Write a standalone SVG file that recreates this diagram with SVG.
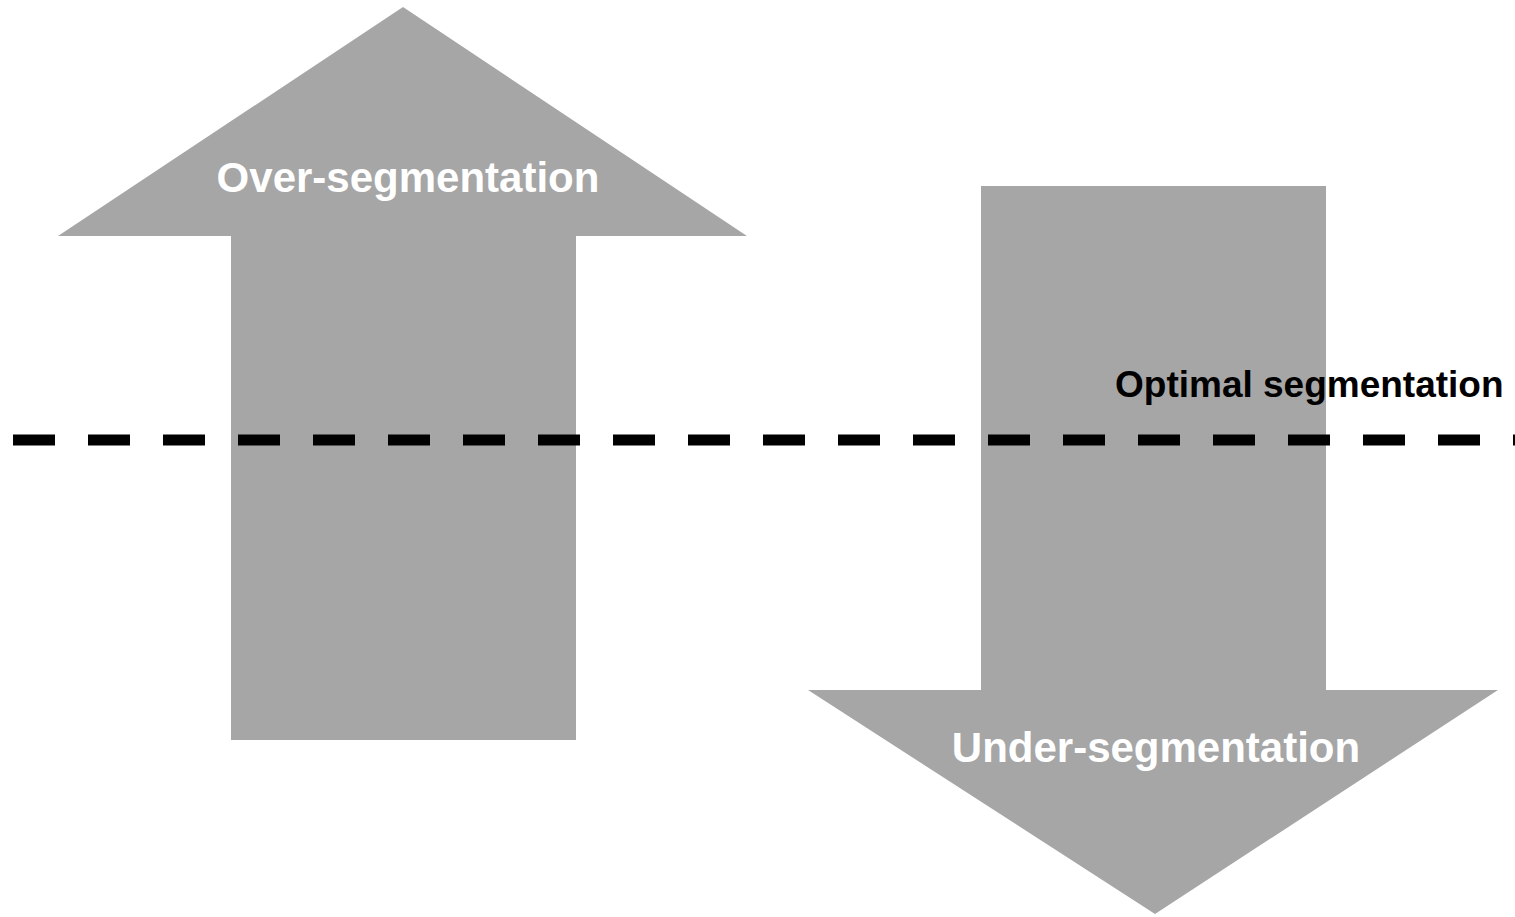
<svg xmlns="http://www.w3.org/2000/svg" width="1515" height="917" viewBox="0 0 1515 917">
  <style>
    .arrow { fill: #a6a6a6; stroke: none; }
    .label { font-family: "Liberation Sans", Arial, sans-serif; font-weight: bold; }
    .white { fill: #ffffff; font-size: 42px; text-anchor: middle; }
    .black { fill: #000000; font-size: 37px; }
    .dash { stroke: #000000; stroke-width: 11; stroke-dasharray: 42 33; fill: none; }
  </style>
  <rect width="1515" height="917" fill="#ffffff"/>

  <!-- upward block arrow -->
  <g id="over">
    <polygon class="arrow" points="403,7 747,236 576,236 576,740 231,740 231,236 58,236"/>
    <text class="label white" x="408" y="192">Over-segmentation</text>
  </g>

  <!-- downward block arrow -->
  <g id="under">
    <polygon class="arrow" points="981,186 1326,186 1326,690 1498,690 1155,914 808,690 981,690"/>
    <text class="label white" x="1156" y="762">Under-segmentation</text>
  </g>

  <!-- dashed threshold line -->
  <g id="connectors">
    <line class="dash" x1="13" y1="440" x2="1515" y2="440"/>
  </g>

  <g id="optimal">
    <text class="label black" x="1115" y="397">Optimal segmentation</text>
  </g>
</svg>
